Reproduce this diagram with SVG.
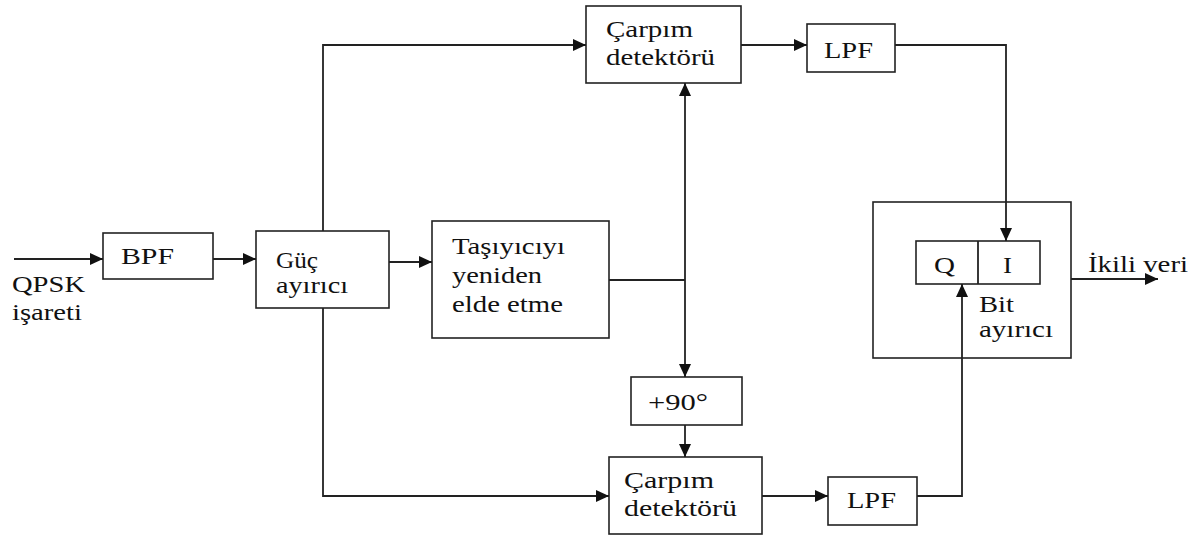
<svg xmlns="http://www.w3.org/2000/svg" width="1204" height="538" viewBox="0 0 1204 538">
<style>
  .box { fill: #fff; stroke: #222; stroke-width: 1.6; }
  .wire { fill: none; stroke: #222; stroke-width: 1.8; }
  .t { font-family: "Liberation Serif", "Times New Roman", Times, "DejaVu Serif", serif; font-size: 24px; fill: #111; }
</style>
<defs>
  <marker id="arr" markerUnits="userSpaceOnUse" markerWidth="14" markerHeight="12" refX="13" refY="6" orient="auto">
    <path d="M0,0 L13,6 L0,12 z" fill="#111"/>
  </marker>
</defs>
<rect width="1204" height="538" fill="#fff"/>
<g id="input-label">
  <text class="t" x="12" y="292" textLength="73" lengthAdjust="spacingAndGlyphs">QPSK</text>
  <text class="t" x="12" y="320" textLength="70" lengthAdjust="spacingAndGlyphs">işareti</text>
</g>
<g id="bpf">
  <rect class="box" x="103" y="233" width="110" height="46"/>
  <text class="t" x="121" y="264" textLength="53" lengthAdjust="spacingAndGlyphs">BPF</text>
</g>
<g id="guc-ayirici">
  <rect class="box" x="256" y="231" width="133" height="77"/>
  <text class="t" x="276" y="268" textLength="42" lengthAdjust="spacingAndGlyphs">Güç</text>
  <text class="t" x="276" y="293" textLength="72" lengthAdjust="spacingAndGlyphs">ayırıcı</text>
</g>
<g id="carpim-top">
  <rect class="box" x="586" y="6" width="155" height="77"/>
  <text class="t" x="606" y="37" textLength="87" lengthAdjust="spacingAndGlyphs">Çarpım</text>
  <text class="t" x="606" y="65" textLength="109" lengthAdjust="spacingAndGlyphs">detektörü</text>
</g>
<g id="lpf-top">
  <rect class="box" x="807" y="24" width="88" height="48"/>
  <text class="t" x="824" y="58" textLength="49" lengthAdjust="spacingAndGlyphs">LPF</text>
</g>
<g id="tasiyici">
  <rect class="box" x="432" y="221" width="177" height="117"/>
  <text class="t" x="452" y="254" textLength="113" lengthAdjust="spacingAndGlyphs">Taşıyıcıyı</text>
  <text class="t" x="452" y="283" textLength="90" lengthAdjust="spacingAndGlyphs">yeniden</text>
  <text class="t" x="452" y="312" textLength="111" lengthAdjust="spacingAndGlyphs">elde etme</text>
</g>
<g id="phase90">
  <rect class="box" x="631" y="377" width="111" height="48"/>
  <text class="t" x="648" y="410" textLength="60" lengthAdjust="spacingAndGlyphs">+90°</text>
</g>
<g id="carpim-bottom">
  <rect class="box" x="609" y="457" width="153" height="77"/>
  <text class="t" x="624" y="488" textLength="90" lengthAdjust="spacingAndGlyphs">Çarpım</text>
  <text class="t" x="624" y="516" textLength="113" lengthAdjust="spacingAndGlyphs">detektörü</text>
</g>
<g id="lpf-bottom">
  <rect class="box" x="828" y="477" width="89" height="48"/>
  <text class="t" x="847" y="508" textLength="49" lengthAdjust="spacingAndGlyphs">LPF</text>
</g>
<g id="bit-ayirici">
  <rect class="box" x="873" y="202" width="198" height="156"/>
  <rect class="box" x="916" y="241" width="124" height="43"/>
  <line class="wire" x1="978" y1="241" x2="978" y2="284"/>
  <text class="t" x="934" y="273" textLength="21" lengthAdjust="spacingAndGlyphs">Q</text>
  <text class="t" x="1003" y="273" textLength="9" lengthAdjust="spacingAndGlyphs">I</text>
  <text class="t" x="979" y="312" textLength="35" lengthAdjust="spacingAndGlyphs">Bit</text>
  <text class="t" x="979" y="337" textLength="74" lengthAdjust="spacingAndGlyphs">ayırıcı</text>
</g>
<g id="output-label">
  <text class="t" x="1088" y="272" textLength="100" lengthAdjust="spacingAndGlyphs">İkili veri</text>
</g>
<g id="connectors">
  <path class="wire" d="M14,259 H103" marker-end="url(#arr)"/>
  <path class="wire" d="M213,259 H256" marker-end="url(#arr)"/>
  <path class="wire" d="M389,262 H432" marker-end="url(#arr)"/>
  <path class="wire" d="M323,231 V45 H586" marker-end="url(#arr)"/>
  <path class="wire" d="M323,308 V496 H609" marker-end="url(#arr)"/>
  <path class="wire" d="M741,45 H807" marker-end="url(#arr)"/>
  <path class="wire" d="M895,45 H1006 V241" marker-end="url(#arr)"/>
  <path class="wire" d="M609,280 H685"/>
  <path class="wire" d="M685,280 V83" marker-end="url(#arr)"/>
  <path class="wire" d="M685,280 V377" marker-end="url(#arr)"/>
  <path class="wire" d="M685,425 V457" marker-end="url(#arr)"/>
  <path class="wire" d="M762,496 H828" marker-end="url(#arr)"/>
  <path class="wire" d="M917,496 H962 V284" marker-end="url(#arr)"/>
  <path class="wire" d="M1071,279 H1158" marker-end="url(#arr)"/>
</g>
</svg>
